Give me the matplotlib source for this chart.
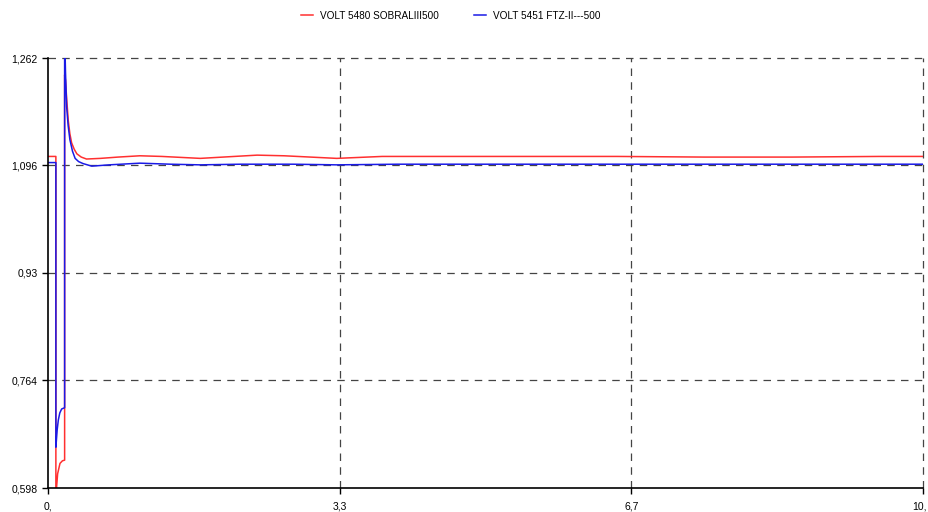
import matplotlib
matplotlib.use("Agg")
import matplotlib.pyplot as plt
import matplotlib.transforms as mtransforms

plt.rcParams['font.family'] = ['Liberation Sans', 'DejaVu Sans']

# time (s) and voltage (pu)
t_red = [0.0, 0.09, 0.09, 0.11, 0.137, 0.165, 0.19, 0.19, 0.20, 0.213, 0.232, 0.25, 0.27, 0.30,
         0.33, 0.38, 0.44, 0.6, 0.8, 1.05, 1.3, 1.74, 2.0, 2.39, 2.7, 3.0, 3.3, 3.82, 4.5, 5.5,
         6.5, 7.5, 8.5, 9.5, 10.0]
v_red = [1.110, 1.110, 0.585, 0.620, 0.636, 0.640, 0.641, 1.236, 1.228, 1.200, 1.165, 1.145, 1.131, 1.121,
         1.114, 1.109, 1.106, 1.107, 1.109, 1.111, 1.110, 1.107, 1.109, 1.112, 1.111, 1.109, 1.107, 1.110,
         1.110, 1.110, 1.110, 1.109, 1.109, 1.110, 1.110]

t_blue = [0.0, 0.09, 0.09, 0.105, 0.118, 0.135, 0.156, 0.19, 0.19, 0.20, 0.213, 0.23, 0.25, 0.28,
          0.31, 0.35, 0.40, 0.5, 0.7, 1.05, 1.4, 1.74, 2.2, 2.8, 3.3, 4.0, 5.0, 6.0, 7.0, 8.0,
          9.0, 10.0]
v_blue = [1.1005, 1.1005, 0.661, 0.688, 0.703, 0.714, 0.720, 0.722, 1.300, 1.240, 1.187, 1.158, 1.136, 1.118,
          1.107, 1.102, 1.099, 1.095, 1.097, 1.0996, 1.098, 1.097, 1.098, 1.098, 1.097, 1.098, 1.098, 1.098,
          1.098, 1.098, 1.098, 1.098]

y_ticks = [0.598, 0.764, 0.93, 1.096, 1.262]
y_labels = ['0,598', '0,764', '0,93', '1,096', '1,262']
x_ticks = [0.0, 10 / 3, 20 / 3, 10.0]
x_labels = ['0,', '3,3', '6,7', '10,']

fig = plt.figure(figsize=(9.29, 5.12), dpi=100)
ax = fig.add_axes([48 / 929, 24 / 512, 875 / 929, 430 / 512])

ax.plot(t_red, v_red, color='#ff3030', lw=1.1, label='VOLT 5480 SOBRALIII500')
ax.plot(t_blue, v_blue, color='#1a1ae6', lw=1.1, label='VOLT 5451 FTZ-II---500')

ax.set_xlim(0, 10)
ax.set_ylim(0.598, 1.262)
ax.set_xticks(x_ticks, labels=x_labels)
ax.set_yticks(y_ticks, labels=y_labels)
ax.tick_params(direction='out', length=4, width=1, labelsize=7.5, colors='black')
ax.tick_params(axis='x', pad=6)

# keep the last x label inside the figure
last = ax.get_xticklabels()[-1]
last.set_horizontalalignment('right')
last.set_transform(last.get_transform() + mtransforms.ScaledTranslation(4 / 100, 0, fig.dpi_scale_trans))

dash = (0, (6, 5))
for y in y_ticks[1:]:
    ax.axhline(y, color='#444444', lw=0.9, linestyle=dash, zorder=0, clip_on=False)
for x in x_ticks[1:]:
    ax.axvline(x, color='#444444', lw=0.9, linestyle=dash, zorder=0, clip_on=False)

ax.spines['left'].set_linewidth(1.2)
ax.spines['bottom'].set_linewidth(1.2)
ax.spines['top'].set_visible(False)
ax.spines['right'].set_visible(False)

fig.legend(loc='upper center', bbox_to_anchor=(0.485, 0.997), ncol=2, frameon=False,
           fontsize=7.2, handlelength=1.2, handletextpad=0.7, columnspacing=3.5)

fig.savefig('out.png', dpi=100)
